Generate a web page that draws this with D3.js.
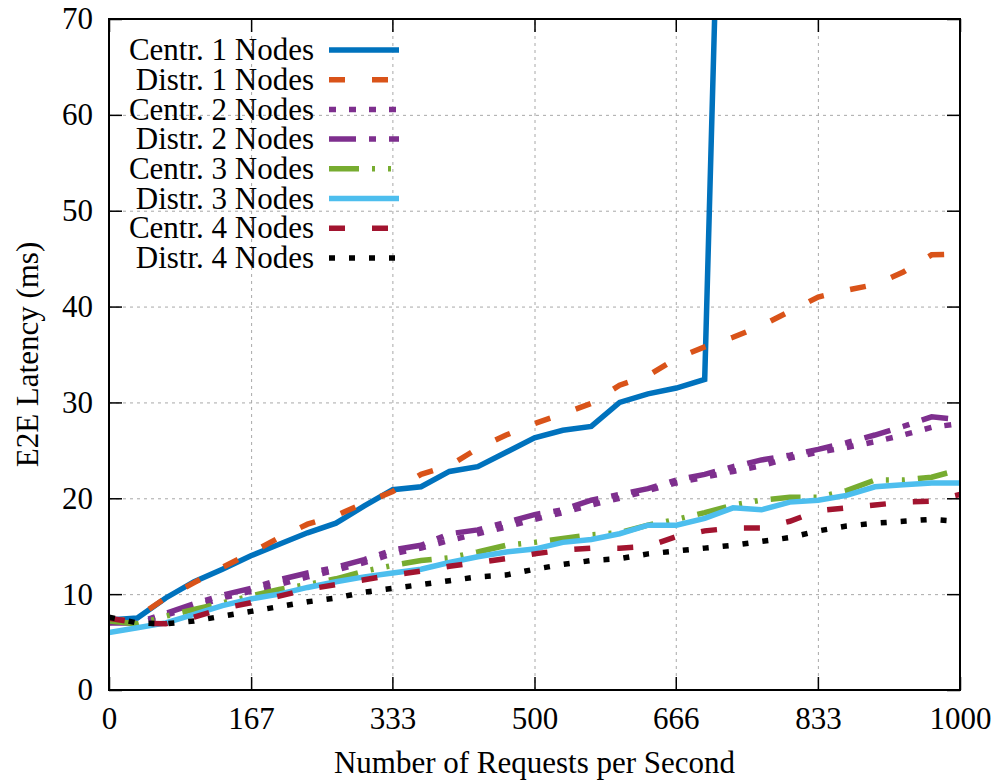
<!DOCTYPE html>
<html>
<head>
<meta charset="utf-8">
<script src="https://cdn.jsdelivr.net/npm/d3@7"></script>
<style>
  body { margin: 0; background: #fff; }
</style>
</head>
<body>
<svg id="chart" width="995" height="782"></svg>
<script>
// requests per second (31 measurement points)
var requests = [0, 33.3, 66.7, 100, 133.3, 166.7, 200, 233.3, 266.7, 300, 333.3,
    366.7, 400, 433.3, 466.7, 500, 533.3, 566.7, 600, 633.3, 666.7,
    700, 733.3, 766.7, 800, 833.3, 866.7, 900, 933.3, 966.7, 1000];

// E2E latency (ms) per series
var centr1 = [7.3, 7.5, 9.6, 11.3, 12.6, 14.0, 15.2, 16.4, 17.4, 19.2, 20.9,
    21.2, 22.8, 23.3, 24.8, 26.3, 27.1, 27.5, 30.0, 30.9, 31.5, 32.4, 140];
var distr1 = [7.0, 7.6, 9.6, 11.2, 12.8, 14.3, 15.9, 17.3, 18.2, 19.5, 20.7,
    22.5, 23.4, 25.2, 26.6, 27.8, 28.8, 29.9, 31.8, 32.8, 34.6,
    35.8, 36.8, 38.0, 39.5, 41.0, 41.7, 42.3, 43.6, 45.4, 45.5];
var centr2 = [7.2, 6.9, 7.8, 8.7, 9.6, 10.3, 11.0, 11.8, 12.5, 13.3, 14.2,
    14.8, 15.6, 16.3, 17.0, 17.8, 18.5, 19.3, 20.0, 20.8, 21.6,
    22.2, 22.8, 23.4, 24.2, 24.8, 25.3, 25.9, 26.6, 27.4, 27.8];
var distr2 = [7.0, 7.0, 8.0, 9.0, 9.9, 10.6, 11.5, 12.2, 12.8, 13.6, 14.6,
    15.1, 16.3, 16.7, 17.5, 18.3, 18.8, 19.8, 20.4, 21.0, 21.9,
    22.5, 23.3, 24.0, 24.5, 25.1, 25.8, 26.6, 27.5, 28.5, 28.2];
var centr3 = [7.2, 6.9, 7.7, 8.4, 9.1, 9.8, 10.5, 11.0, 11.6, 12.4, 13.0,
    13.5, 13.8, 14.4, 15.1, 15.4, 15.8, 16.2, 16.4, 17.2, 17.8,
    18.5, 19.3, 19.8, 20.1, 20.1, 20.8, 21.9, 21.9, 22.2, 23.0];
var distr3 = [6.0, 6.5, 7.0, 7.9, 8.8, 9.5, 10.0, 10.7, 11.3, 11.8, 12.2,
    12.6, 13.3, 13.9, 14.4, 14.7, 15.4, 15.7, 16.3, 17.2, 17.2,
    17.9, 19.0, 18.8, 19.6, 19.8, 20.3, 21.2, 21.4, 21.6, 21.6];
var centr4 = [7.5, 7.0, 6.9, 7.6, 8.5, 9.1, 9.8, 10.5, 11.0, 11.5, 12.0,
    12.4, 12.9, 13.3, 13.7, 14.2, 14.6, 14.8, 14.8, 15.0, 16.0,
    16.6, 16.9, 16.9, 17.6, 18.7, 19.0, 19.3, 19.6, 19.7, 20.4];
var distr4 = [7.6, 7.0, 6.9, 7.2, 7.7, 8.2, 8.7, 9.2, 9.6, 10.2, 10.6,
    11.0, 11.4, 11.8, 12.0, 12.6, 13.1, 13.5, 13.7, 14.2, 14.5,
    14.8, 15.1, 15.5, 15.9, 16.6, 17.1, 17.4, 17.6, 17.8, 17.6];

var seriesNames = ["Centr. 1 Nodes", "Distr. 1 Nodes", "Centr. 2 Nodes", "Distr. 2 Nodes",
    "Centr. 3 Nodes", "Distr. 3 Nodes", "Centr. 4 Nodes", "Distr. 4 Nodes"];
var seriesValues = [centr1, distr1, centr2, distr2, centr3, distr3, centr4, distr4];

var xTicks = [0, 167, 333, 500, 666, 833, 1000];
var yTicks = [0, 10, 20, 30, 40, 50, 60, 70];

// styles for each series, same order as above
var colors = ["#0072bd", "#d95319", "#7e2f8e", "#7e2f8e", "#77ac30", "#4dbeee", "#a2142f", "#000000"];
var dashes = [null, "16,27", "7,13", "27,13,7,13", "30,13,3,13,3,13", null, "16,27", "6,14"];

var margin = {left: 109, right: 35, top: 19, bottom: 92};
var svg = d3.select("#chart");
var W = 995, H = 782;

var x = d3.scaleLinear().domain([0, 1000]).range([margin.left, W - margin.right]);
var y = d3.scaleLinear().domain([0, 70]).range([H - margin.bottom, margin.top]);

var fontSize = 31;
var fontFamily = "'Liberation Serif', Tinos, 'Nimbus Roman', 'Times New Roman', Times, 'DejaVu Serif', serif";

// grid
svg.append("g")
    .attr("transform", `translate(0,${y(0)})`)
    .call(d3.axisBottom(x).tickValues(xTicks.slice(1, -1)).tickSize(-(y(0) - y(70))).tickFormat(""))
    .call(g => g.select(".domain").remove())
    .call(g => g.selectAll("line").attr("stroke", "#a8a8a8").attr("stroke-dasharray", "3,4"));
svg.append("g")
    .attr("transform", `translate(${x(0)},0)`)
    .call(d3.axisLeft(y).tickValues(yTicks.slice(1, -1)).tickSize(-(x(1000) - x(0))).tickFormat(""))
    .call(g => g.select(".domain").remove())
    .call(g => g.selectAll("line").attr("stroke", "#a8a8a8").attr("stroke-dasharray", "3,4"));

// clip the data lines to the plot area
svg.append("clipPath").attr("id", "plotClip")
    .append("rect")
    .attr("x", x(0)).attr("y", y(70))
    .attr("width", x(1000) - x(0)).attr("height", y(0) - y(70));

var line = d3.line()
    .x((d, i) => x(requests[i]))
    .y(d => y(d));

svg.append("g").attr("clip-path", "url(#plotClip)")
    .selectAll("path")
    .data(seriesValues)
    .join("path")
    .attr("d", d => line(d))
    .attr("fill", "none")
    .attr("stroke", (d, i) => colors[i])
    .attr("stroke-width", 5.5)
    .attr("stroke-linejoin", "miter")
    .attr("stroke-dasharray", (d, i) => dashes[i]);

// axes with inward ticks, mirrored on top and right
var tickLen = 13;
function styleAxis(g) {
    g.select(".domain").remove();
    g.attr("font-family", null).attr("font-size", null);
    g.selectAll("line").attr("stroke", "#000").attr("stroke-width", 1.5);
    g.selectAll("text")
        .style("font-family", fontFamily)
        .style("font-size", fontSize + "px")
        .attr("fill", "#000");
}
svg.append("g")
    .attr("transform", `translate(0,${y(0)})`)
    .call(d3.axisBottom(x).tickValues(xTicks).tickSizeInner(-tickLen).tickSizeOuter(0).tickPadding(17).tickFormat(d3.format("d")))
    .call(styleAxis);
svg.append("g")
    .attr("transform", `translate(0,${y(70)})`)
    .call(d3.axisTop(x).tickValues(xTicks).tickSizeInner(-tickLen).tickSizeOuter(0).tickFormat(""))
    .call(styleAxis);
svg.append("g")
    .attr("transform", `translate(${x(0)},0)`)
    .call(d3.axisLeft(y).tickValues(yTicks).tickSizeInner(-tickLen).tickSizeOuter(0).tickPadding(16))
    .call(styleAxis);
svg.append("g")
    .attr("transform", `translate(${x(1000)},0)`)
    .call(d3.axisRight(y).tickValues(yTicks).tickSizeInner(-tickLen).tickSizeOuter(0).tickFormat(""))
    .call(styleAxis);

// frame
svg.append("rect")
    .attr("x", x(0)).attr("y", y(70))
    .attr("width", x(1000) - x(0)).attr("height", y(0) - y(70))
    .attr("fill", "none").attr("stroke", "#000").attr("stroke-width", 2);

// axis titles
svg.append("text")
    .attr("transform", `translate(38,${(y(0) + y(70)) / 2}) rotate(-90)`)
    .attr("text-anchor", "middle")
    .style("font-family", fontFamily)
    .style("font-size", fontSize + "px")
    .text("E2E Latency (ms)");
svg.append("text")
    .attr("x", (x(0) + x(1000)) / 2)
    .attr("y", 773)
    .attr("text-anchor", "middle")
    .style("font-family", fontFamily)
    .style("font-size", fontSize + "px")
    .text("Number of Requests per Second");

// legend (no box), text right aligned, sample line on the right
var legend = svg.append("g");
var rowH = 29.7, legendTop = 50;
seriesNames.forEach(function(name, i) {
    var ly = legendTop + i * rowH;
    legend.append("text")
        .attr("x", 314).attr("y", ly)
        .attr("dy", "0.33em")
        .attr("text-anchor", "end")
        .style("font-family", fontFamily)
        .style("font-size", fontSize + "px")
        .text(name);
    legend.append("line")
        .attr("x1", 329).attr("x2", 399)
        .attr("y1", ly).attr("y2", ly)
        .attr("stroke", colors[i])
        .attr("stroke-width", 5.5)
        .attr("stroke-dasharray", dashes[i]);
});
</script>
</body>
</html>
